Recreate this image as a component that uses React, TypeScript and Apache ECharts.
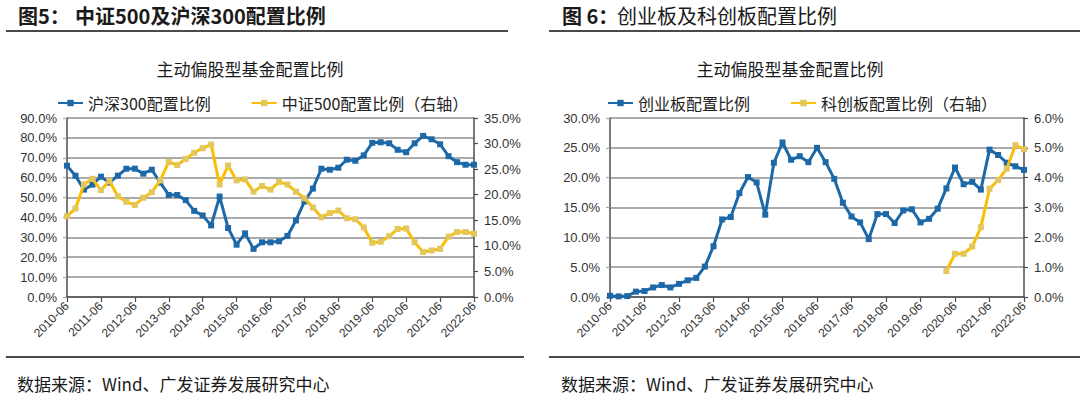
import React, { useEffect, useRef } from "react";
import * as echarts from "echarts";

const dates = [
  "2010-06", "2010-09", "2010-12",
  "2011-03", "2011-06", "2011-09", "2011-12",
  "2012-03", "2012-06", "2012-09", "2012-12",
  "2013-03", "2013-06", "2013-09", "2013-12",
  "2014-03", "2014-06", "2014-09", "2014-12",
  "2015-03", "2015-06", "2015-09", "2015-12",
  "2016-03", "2016-06", "2016-09", "2016-12",
  "2017-03", "2017-06", "2017-09", "2017-12",
  "2018-03", "2018-06", "2018-09", "2018-12",
  "2019-03", "2019-06", "2019-09", "2019-12",
  "2020-03", "2020-06", "2020-09", "2020-12",
  "2021-03", "2021-06", "2021-09", "2021-12",
  "2022-03", "2022-06",
];

// 图5: 沪深300配置比例 (left axis, %)
const hs300 = [
  66, 61, 54, 56.5, 60.5, 57.5, 61, 64.5, 64.5, 62, 64, 57.5,
  51.3, 51.3, 48.7, 43.3, 41, 36, 50.5, 34.7, 26.3, 32, 24.2, 27.5,
  27.5, 28, 30.7, 38.5, 48, 54.5, 64.5, 64, 65, 69, 68.5, 71.2,
  77.5, 77.8, 77.3, 74, 72.8, 77.3, 81, 79.3, 76.8, 70.8, 67.8, 66.5,
  66.5,
];
// 图5: 中证500配置比例 (right axis, %)
const zz500 = [
  15.8, 17.3, 22.0, 23.1, 20.9, 22.7, 19.7, 18.6, 18.0, 19.4, 20.5, 22.8,
  26.4, 25.8, 27.0, 28.2, 29.1, 29.8, 22.0, 25.7, 22.8, 23.0, 20.6, 21.7,
  21.0, 22.5, 22.0, 20.6, 19.3, 17.5, 15.6, 16.4, 16.9, 15.4, 15.2, 13.6,
  10.6, 10.8, 11.9, 13.3, 13.4, 10.7, 8.8, 9.1, 9.4, 11.8, 12.7, 12.7,
  12.4,
];
// 图6: 创业板配置比例 (left axis, %)
const cyb = [
  0.2, 0.1, 0.15, 0.9, 1.0, 1.6, 2.0, 1.6, 2.2, 2.8, 3.2, 5.1,
  8.5, 13.0, 13.4, 17.4, 20.1, 19.2, 13.8, 22.5, 25.9, 23.0, 23.6, 22.6,
  25.0, 22.6, 19.8, 15.8, 13.5, 12.5, 9.7, 13.9, 13.9, 12.4, 14.5, 14.7,
  12.5, 13.1, 14.8, 18.2, 21.7, 18.9, 19.3, 18.0, 24.7, 23.8, 22.5, 21.9,
  21.3,
];
// 图6: 科创板配置比例 (right axis, %)
const kcbDates = [
  "2020-03", "2020-06", "2020-09", "2020-12", "2021-03",
  "2021-06", "2021-09", "2021-12", "2022-03", "2022-06",
];
const kcb = [0.87, 1.45, 1.45, 1.69, 2.34, 3.63, 3.92, 4.3, 5.09, 4.95];

const leftTicks = { left: [0, 90, 10], right: [0, 35, 5] };
const rightTicks = { left: [0, 30, 5], right: [0, 6, 1] };

const BLUE = "#1d69a8";
const YELLOW_LINE = "#fbbe00";
const YELLOW_MARK = "#e3c65c";
const CJK = '"Noto Sans CJK SC", sans-serif';
const LATIN = '"Liberation Sans", Arial, sans-serif';

function xAxis(gridIndex: number) {
  return {
    type: "category",
    gridIndex,
    data: dates,
    boundaryGap: false,
    axisLine: { show: true, lineStyle: { color: "#4d4d4d", width: 1.5 } },
    axisTick: {
      show: true,
      interval: 3,
      length: 5,
      lineStyle: { color: "#4d4d4d", width: 1.2 },
    },
    axisLabel: {
      interval: 3,
      rotate: 45,
      margin: 7,
      fontSize: 12,
      fontFamily: LATIN,
      color: "#333",
    },
    splitLine: { show: false },
  };
}

function yAxis(gridIndex: number, t: number[], position: string, split: boolean) {
  return {
    type: "value",
    gridIndex,
    position,
    min: t[0],
    max: t[1],
    interval: t[2],
    axisLine: { show: true, lineStyle: { color: "#4d4d4d", width: 1.5 } },
    axisTick: {
      show: true,
      length: 4,
      lineStyle: { color: position === "left" ? "#a6a6a6" : "#4d4d4d", width: 1.2 },
    },
    axisLabel: {
      margin: 10,
      fontSize: 13,
      fontFamily: LATIN,
      color: "#333",
      formatter: (v: number) => v.toFixed(1) + "%",
    },
    splitLine: {
      show: split,
      lineStyle: { color: "#ababab", width: 1.8 },
    },
  };
}

function lineSeries(
  name: string,
  xi: number,
  yi: number,
  data: any[],
  lineColor: string,
  markColor: string,
  z: number
) {
  return {
    name,
    type: "line",
    xAxisIndex: xi,
    yAxisIndex: yi,
    data,
    symbol: "rect",
    symbolSize: 6,
    showAllSymbol: true,
    lineStyle: { color: lineColor, width: 3 },
    itemStyle: { color: markColor },
    z,
  };
}

function legend(left: number, names: string[]) {
  return {
    left,
    top: 90,
    data: names,
    itemWidth: 25,
    itemHeight: 8,
    itemGap: 40,
    textStyle: { fontSize: 16, fontFamily: CJK, color: "#222" },
  };
}

function text(x: number, y: number, t: string, size: number, weight: string, align = "left") {
  return {
    type: "text",
    x,
    y,
    silent: true,
    style: {
      text: t,
      fontSize: size,
      fontFamily: CJK,
      fontWeight: weight,
      fill: "#1a1a1a",
      align,
      verticalAlign: "middle",
    },
  };
}

function hline(x1: number, x2: number, y: number) {
  return {
    type: "line",
    silent: true,
    shape: { x1, y1: y, x2, y2: y },
    style: { stroke: "#4a4a4a", lineWidth: 2 },
  };
}

export default function App() {
  const ref = useRef<HTMLDivElement>(null);

  useEffect(() => {
    if (!ref.current) return;
    const chart = echarts.init(ref.current, undefined, { renderer: "svg" });
    chart.setOption({
      animation: false,
      backgroundColor: "#ffffff",
      grid: [
        { left: 67, top: 118, width: 407, height: 179, containLabel: false },
        { left: 610, top: 118, width: 414, height: 179, containLabel: false },
      ],
      xAxis: [xAxis(0), xAxis(1)],
      yAxis: [
        yAxis(0, leftTicks.left, "left", true),
        yAxis(0, leftTicks.right, "right", false),
        yAxis(1, rightTicks.left, "left", true),
        yAxis(1, rightTicks.right, "right", false),
      ],
      legend: [
        legend(52, ["沪深300配置比例", "中证500配置比例（右轴）"]),
        legend(602, ["创业板配置比例", "科创板配置比例（右轴）"]),
      ],
      series: [
        lineSeries("沪深300配置比例", 0, 0, hs300, BLUE, BLUE, 2),
        lineSeries("中证500配置比例（右轴）", 0, 1, zz500, YELLOW_LINE, YELLOW_MARK, 3),
        lineSeries("创业板配置比例", 1, 2, cyb, BLUE, BLUE, 2),
        lineSeries(
          "科创板配置比例（右轴）",
          1,
          3,
          kcbDates.map((d, i) => [d, kcb[i]]),
          YELLOW_LINE,
          YELLOW_MARK,
          3
        ),
      ],
      graphic: [
        text(18, 15, "图5：", 20, "bold"),
        text(75, 15, "中证500及沪深300配置比例", 20, "bold"),
        text(562, 15, "图 6：", 20, "bold"),
        text(617, 15, "创业板及科创板配置比例", 20, "normal"),
        hline(6, 508, 31),
        hline(549, 1080, 31),
        text(250, 68, "主动偏股型基金配置比例", 17, "normal", "center"),
        text(790, 68, "主动偏股型基金配置比例", 17, "normal", "center"),
        hline(6, 524, 357),
        hline(549, 1080, 357),
        text(17, 383, "数据来源：Wind、广发证券发展研究中心", 17, "normal"),
        text(561, 383, "数据来源：Wind、广发证券发展研究中心", 17, "normal"),
      ],
    });
    return () => chart.dispose();
  }, []);

  return (
    <div
      ref={ref}
      style={{ position: "absolute", left: 0, top: 0, width: 1080, height: 400, background: "#fff" }}
    />
  );
}
